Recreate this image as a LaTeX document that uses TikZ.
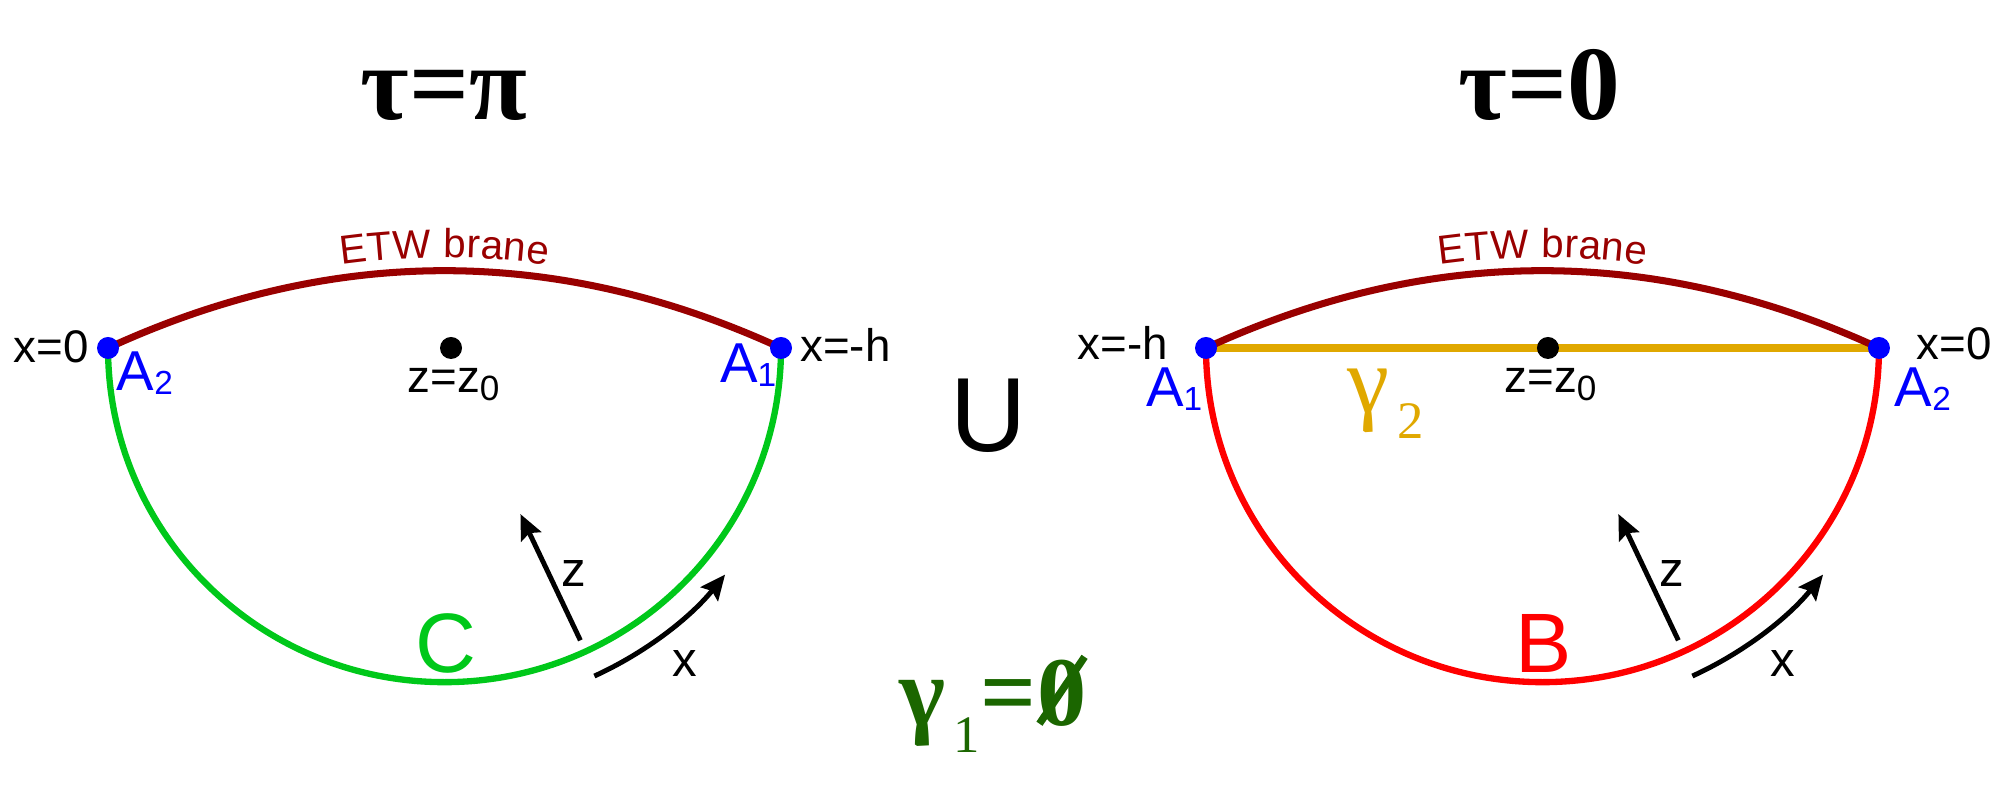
\documentclass[tikz,border=0pt]{standalone}
\usepackage{fontspec}
\setmainfont{Liberation Sans}
\newfontfamily\grk{Liberation Serif}
\usetikzlibrary{arrows.meta,decorations.text}
\definecolor{branecol}{HTML}{990000}
\definecolor{cgreen}{HTML}{00C81A}
\definecolor{cred}{HTML}{FF0000}
\definecolor{cgold}{HTML}{E0A800}
\definecolor{cblue}{HTML}{0000FF}
\definecolor{dgreen}{HTML}{1B6600}
\newcommand{\myfs}[1]{\fontsize{#1}{#1}\selectfont}
\newcommand{\mysub}[3]{\raisebox{#1}{\myfs{#2}#3}}
\newcommand{\myempty}{\ooalign{\hfil0\hfil\cr\hfil\rotatebox{56}{\rule{0.82em}{0.075em}}\hfil\cr}}
\begin{document}
\begin{tikzpicture}[x=0.012755cm,y=-0.012755cm,
  branecurve/.style={draw=branecol,line width=2pt},
  greenarc/.style={draw=cgreen,line width=1.8pt},
  redarc/.style={draw=cred,line width=1.8pt},
  goldline/.style={draw=cgold,line width=2.3pt},
  bdot/.style={circle,fill=cblue,inner sep=0pt,minimum size=0.22cm},
  kdot/.style={circle,fill=black,inner sep=0pt,minimum size=0.22cm},
  arr/.style={line width=1.4pt,-{Stealth[length=0.25cm,width=0.22cm,inset=0.04cm]}},
  lab/.style={inner sep=0pt,font=\myfs{13}},
  alab/.style={inner sep=0pt,font=\myfs{16},text=cblue},
  axlab/.style={inner sep=0pt,font=\myfs{14}},
  title/.style={inner sep=0pt,font=\grk\bfseries\myfs{30}},
  bigl/.style={inner sep=0pt,font=\myfs{24}}
]
\useasboundingbox (0,0) rectangle (1568,627);

% ---- key points ----
\coordinate (A2L) at (84.7,272.8);
\coordinate (A1L) at (612.3,272.8);
\coordinate (c1L) at (260.6,192.0);
\coordinate (c2L) at (436.4,192.0);
\coordinate (A1R) at (945.5,272.8);
\coordinate (A2R) at (1473.1,272.8);
\coordinate (c1R) at (1121.4,192.0);
\coordinate (c2R) at (1297.2,192.0);

% ---- left figure ----
\draw[greenarc] (A2L) arc[start angle=180,end angle=0,x radius=263.8,y radius=262];
\draw[branecurve] (A2L) .. controls (c1L) and (c2L) .. (A1L);
\path[decorate,decoration={text along path,text align=center,raise=0.13cm,
  text={|\myfs{11.5}\color{branecol}|ETW brane}}] (A2L) .. controls (c1L) and (c2L) .. (A1L);

% ---- right figure ----
\draw[redarc] (A1R) arc[start angle=180,end angle=0,x radius=263.8,y radius=262];
\draw[goldline] (A1R) -- (A2R);
\draw[branecurve] (A1R) .. controls (c1R) and (c2R) .. (A2R);
\path[decorate,decoration={text along path,text align=center,raise=0.13cm,
  text={|\myfs{11.5}\color{branecol}|ETW brane}}] (A1R) .. controls (c1R) and (c2R) .. (A2R);

% ---- dots ----
\node[bdot] (dA2L) at (A2L) {};
\node[bdot] (dA1L) at (A1L) {};
\node[bdot] (dA1R) at (A1R) {};
\node[bdot] (dA2R) at (A2R) {};
\node[kdot] (z0L) at (353.6,272.8) {};
\node[kdot] (z0R) at (1213.6,272.8) {};

% ---- labels ----
\node[lab,anchor=base east] (x0L) at (70,283.8) {x=0};
\node[lab,anchor=base west] (xhL) at (627,283.6) {x=-h};
\node[lab,anchor=base east] (xhR) at (916,281.6) {x=-h};
\node[lab,anchor=base west] (x0R) at (1502,282) {x=0};

\node[alab,anchor=base west] (a2L) at (91,306) {A\mysub{-0.04cm}{9.5}{2}};
\node[alab,anchor=base east] (a1L) at (609,300) {A\mysub{-0.04cm}{9.5}{1}};
\node[alab,anchor=base east] (a1R) at (943,319) {A\mysub{-0.04cm}{9.5}{1}};
\node[alab,anchor=base west] (a2R) at (1485,319) {A\mysub{-0.04cm}{9.5}{2}};

\node[lab,anchor=base west] (zzL) at (319,308) {z=z\mysub{-0.08cm}{10}{0}};
\node[lab,anchor=base west] (zzR) at (1179,308) {z=z\mysub{-0.08cm}{10}{0}};

\node[title,anchor=base] (tL) at (348,94) {τ=π};
\node[title,anchor=base] (tR) at (1207,94) {τ=0};

\node[inner sep=0pt,font=\myfs{30},anchor=base] (U) at (775,354) {U};

\node[bigl,anchor=base,text=cgreen] (C) at (349.5,527) {C};
\node[bigl,anchor=base,text=cred] (B) at (1210,527) {B};

\node[inner sep=0pt,anchor=base west,text=cgold,font=\grk\myfs{27}] (g2) at (1056,323)
  {γ\kern0.08cm\mysub{-0.26cm}{15}{2}};
\node[inner sep=0pt,anchor=base west,text=dgreen,font=\grk\bfseries\myfs{28}] (g1) at (705,569)
  {γ\kern0.08cm\mysub{-0.27cm}{15}{\mdseries 1}=\myempty};

% ---- axis arrows ----
\coordinate (zsL) at (455,502);
\coordinate (zeL) at (408,403);
\coordinate (xsL) at (466,530);
\draw[arr] (zsL) -- (zeL);
\draw[arr] (xsL) arc[start angle=65.45,end angle=38.9,radius=282.5];
\node[axlab,anchor=base] (zlL) at (450,460) {z};
\node[axlab,anchor=base] (xlL) at (536.5,530.7) {x};

\coordinate (zsR) at (1315.8,502);
\coordinate (zeR) at (1268.8,403);
\coordinate (xsR) at (1326.8,530);
\draw[arr] (zsR) -- (zeR);
\draw[arr] (xsR) arc[start angle=65.45,end angle=38.9,radius=282.5];
\node[axlab,anchor=base] (zlR) at (1310.8,460) {z};
\node[axlab,anchor=base] (xlR) at (1397.3,530.7) {x};
\end{tikzpicture}
\end{document}
